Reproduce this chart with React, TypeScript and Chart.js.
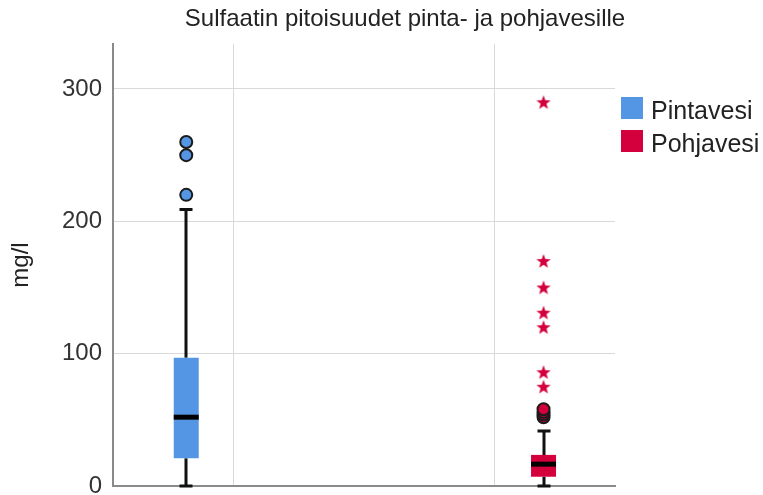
import React, { useEffect, useRef } from 'react';
import { Chart, registerables } from 'chart.js';

Chart.register(...registerables);

const chartTitle = 'Sulfaatin pitoisuudet pinta- ja pohjavesille';
const yAxisTitle = 'mg/l';
const categories = ['Pintavesi', 'Pohjavesi'];
const seriesColors = ['#5596E4', '#D4003D'];
const whiskerLow = [0, 0];
const q1 = [21, 7];
const median = [52, 16.5];
const q3 = [97, 23.5];
const whiskerHigh = [209, 41.5];
const outliers = [[220, 250, 260], [52, 54, 56, 58]];
const extremes = [[], [75, 86, 120, 131, 150, 170, 290]];
const yTicks = [0, 100, 200, 300];
const xGridValues = [0.132, 0.863];

const FONT = '"Liberation Sans", Arial, Helvetica, sans-serif';

function makeStar(color: string) {
  const c = document.createElement('canvas');
  c.width = 16;
  c.height = 16;
  const ctx = c.getContext('2d')!;
  ctx.fillStyle = color;
  ctx.beginPath();
  for (let i = 0; i < 10; i++) {
    const r = i % 2 === 0 ? 7.5 : 3.1;
    const a = -Math.PI / 2 + (i * Math.PI) / 5;
    const px = 8 + r * Math.cos(a);
    const py = 8.6 + r * Math.sin(a);
    if (i === 0) ctx.moveTo(px, py);
    else ctx.lineTo(px, py);
  }
  ctx.closePath();
  ctx.fill();
  return c;
}

const boxPlugin = {
  id: 'boxWhiskers',
  beforeDatasetsDraw(chart: any) {
    const { ctx, scales } = chart;
    const x = scales.x;
    const y = scales.y;
    ctx.save();
    ctx.strokeStyle = '#111111';
    ctx.lineWidth = 3;
    categories.forEach((_, i) => {
      const cx = Math.round(x.getPixelForValue(i));
      const pLow = y.getPixelForValue(whiskerLow[i]);
      const pQ1 = y.getPixelForValue(q1[i]);
      const pQ3 = y.getPixelForValue(q3[i]);
      const pHigh = y.getPixelForValue(whiskerHigh[i]);
      ctx.beginPath();
      ctx.moveTo(cx, pLow);
      ctx.lineTo(cx, pQ1);
      ctx.moveTo(cx, pQ3);
      ctx.lineTo(cx, pHigh);
      ctx.stroke();
      ctx.beginPath();
      ctx.moveTo(cx - 6.5, pLow);
      ctx.lineTo(cx + 6.5, pLow);
      ctx.moveTo(cx - 6.5, pHigh);
      ctx.lineTo(cx + 6.5, pHigh);
      ctx.stroke();
    });
    ctx.restore();
  },
  afterDatasetsDraw(chart: any) {
    const { ctx, scales } = chart;
    const y = scales.y;
    ctx.save();
    ctx.strokeStyle = '#000000';
    ctx.lineWidth = 5;
    categories.forEach((_, i) => {
      const bar = chart.getDatasetMeta(i).data[0];
      if (!bar) return;
      const pm = y.getPixelForValue(median[i]);
      ctx.beginPath();
      ctx.moveTo(bar.x - bar.width / 2, pm);
      ctx.lineTo(bar.x + bar.width / 2, pm);
      ctx.stroke();
    });
    ctx.restore();
  },
};

const legendPlugin = {
  id: 'sideLegend',
  afterDraw(chart: any) {
    const { ctx, chartArea } = chart;
    ctx.save();
    ctx.font = `25px ${FONT}`;
    ctx.textBaseline = 'alphabetic';
    ctx.textAlign = 'left';
    categories.forEach((label, i) => {
      const left = chartArea.right + 6;
      const top = chartArea.top + 53 + i * 33;
      ctx.fillStyle = seriesColors[i];
      ctx.fillRect(left, top, 22, 22);
      ctx.fillStyle = '#222222';
      ctx.fillText(label, left + 30, top + 22);
    });
    ctx.restore();
  },
};

const titlePlacePlugin = {
  id: 'titlePlace',
  afterLayout(chart: any) {
    const t = chart.titleBlock;
    if (t) {
      t.left = 47;
      t.right = 763;
    }
  },
};

export default function App() {
  const ref = useRef<HTMLCanvasElement | null>(null);

  useEffect(() => {
    if (!ref.current) return;
    const star = makeStar(seriesColors[1]);

    const boxDatasets = categories.map((label, i) => ({
      type: 'bar' as const,
      label,
      data: [{ x: i, y: [q1[i], q3[i]] }],
      backgroundColor: seriesColors[i],
      borderWidth: 0,
      borderSkipped: false,
      grouped: false,
      maxBarThickness: 25,
    }));

    const outlierDatasets = categories.map((label, i) => ({
      type: 'scatter' as const,
      label: label + ' outliers',
      data: outliers[i].map((v) => ({ x: i, y: v })),
      pointStyle: 'circle',
      pointRadius: 6,
      pointBorderWidth: 2,
      pointBackgroundColor: seriesColors[i],
      pointBorderColor: '#1a1a1a',
    }));

    const extremeDatasets = categories.map((label, i) => ({
      type: 'scatter' as const,
      label: label + ' extremes',
      data: extremes[i].map((v) => ({ x: i, y: v })),
      pointStyle: star,
      pointRadius: 8,
    }));

    const chart = new Chart(ref.current, {
      type: 'bar',
      data: {
        datasets: [...boxDatasets, ...outlierDatasets, ...extremeDatasets] as any,
      },
      options: {
        animation: false,
        responsive: false,
        devicePixelRatio: 1,
        events: [],
        layout: { padding: { left: 0, top: 0, bottom: 0, right: 148 } },
        plugins: {
          legend: { display: false },
          tooltip: { enabled: false },
          title: {
            display: true,
            text: chartTitle,
            color: '#222222',
            font: { family: FONT, size: 24, weight: 'normal' },
            padding: { top: 5, bottom: 10.2 },
          },
        },
        scales: {
          x: {
            type: 'linear',
            min: -0.205,
            max: 1.2,
            offset: false,
            grid: { color: '#d9d9d9', lineWidth: 1, drawTicks: false, offset: false },
            border: { display: true, color: '#8a8a8a', width: 2 },
            ticks: { display: false },
            afterBuildTicks: (scale: any) => {
              scale.ticks = xGridValues.map((v) => ({ value: v }));
            },
            afterFit: (scale: any) => {
              scale.height = 9;
              scale.paddingLeft = 0;
              scale.paddingRight = 0;
            },
          },
          y: {
            type: 'linear',
            min: 0,
            max: 334,
            grid: { color: '#d9d9d9', lineWidth: 1, drawTicks: false },
            border: { display: true, color: '#8a8a8a', width: 2 },
            ticks: {
              color: '#333333',
              font: { family: FONT, size: 24 },
              padding: 11,
            },
            title: {
              display: true,
              text: yAxisTitle,
              color: '#222222',
              font: { family: FONT, size: 24 },
              padding: { top: 7, bottom: 0 },
            },
            afterBuildTicks: (scale: any) => {
              scale.ticks = yTicks.map((v) => ({ value: v }));
            },
            afterFit: (scale: any) => {
              scale.width = 113;
              scale.paddingTop = 0;
              scale.paddingBottom = 0;
            },
          },
        },
      } as any,
      plugins: [titlePlacePlugin, boxPlugin, legendPlugin],
    });

    return () => chart.destroy();
  }, []);

  return (
    <div style={{ position: 'fixed', left: 0, top: 0, width: 763, height: 495, background: '#ffffff' }}>
      <canvas ref={ref} width={763} height={495} style={{ display: 'block' }} />
    </div>
  );
}
